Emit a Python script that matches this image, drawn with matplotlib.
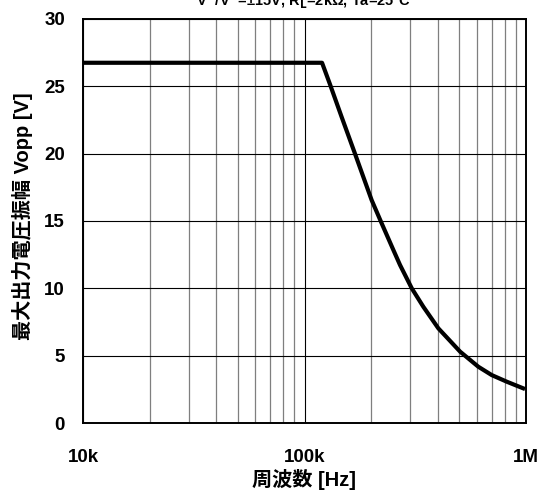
import numpy as np
import matplotlib.pyplot as plt
from matplotlib.ticker import FixedLocator, LogLocator, NullFormatter

# ============================================================
# DATA
# ============================================================

freq_hz = [10e3, 50e3, 120e3, 130e3, 147e3, 169e3, 201e3, 223e3, 252e3,
           270e3, 305e3, 344e3, 402e3, 504e3, 609e3, 700e3, 818e3, 990e3]
vopp = [26.75, 26.75, 26.75, 25.2, 22.74, 20.0, 16.55, 14.83, 12.84,
        11.73, 10.0, 8.63, 7.03, 5.3, 4.18, 3.56, 3.07, 2.52]

X_TICKS = [1e4, 1e5, 1e6]
X_LABELS = ["10k", "100k", "1M"]
Y_TICKS = [0, 5, 10, 15, 20, 25, 30]

FONTS = ["Liberation Sans", "Noto Sans CJK JP", "DejaVu Sans"]
plt.rcParams["font.family"] = FONTS
plt.rcParams["font.weight"] = "bold"

# ============================================================
# PLOT
# ============================================================

fig = plt.figure(figsize=(5.44, 4.96), dpi=100)
ax = fig.add_axes([83 / 544, 1 - 423 / 496, 443 / 544, 404 / 496])

ax.plot(freq_hz, vopp, color="k", lw=3.0, solid_joinstyle="round",
        solid_capstyle="butt", zorder=3)

ax.set_xscale("log")
ax.set_xlim(1e4, 1e6)
ax.set_ylim(0, 30)

ax.xaxis.set_major_locator(FixedLocator(X_TICKS))
ax.set_xticklabels(X_LABELS)
ax.xaxis.set_minor_locator(LogLocator(base=10, subs=np.arange(2, 10)))
ax.xaxis.set_minor_formatter(NullFormatter())
ax.set_yticks(Y_TICKS)

ax.grid(which="major", color="k", lw=0.8)
ax.grid(which="minor", axis="x", color="#7f7f7f", lw=0.9)

ax.tick_params(which="both", length=0)
ax.tick_params(axis="x", pad=19, labelsize=13.5)
ax.tick_params(axis="y", pad=13, labelsize=13.5)

for spine in ax.spines.values():
    spine.set_linewidth(1.4)

ax.set_xlabel("周波数 [Hz]", fontsize=14.5, fontweight="bold", labelpad=2)
ax.set_ylabel("最大出力電圧振幅 Vopp [V]", fontsize=14.5, fontweight="bold")
ax.yaxis.set_label_coords(-0.112, 0.512)

fig.text(0.557, 1 - 5 / 496,
         r"V$^{+}$/V$^{-}$=±15V, R$_{\mathrm{L}}$=2kΩ, Ta=25°C",
         ha="center", va="baseline", fontsize=10.5, fontweight="bold")

plt.savefig("out.png", dpi=100)
